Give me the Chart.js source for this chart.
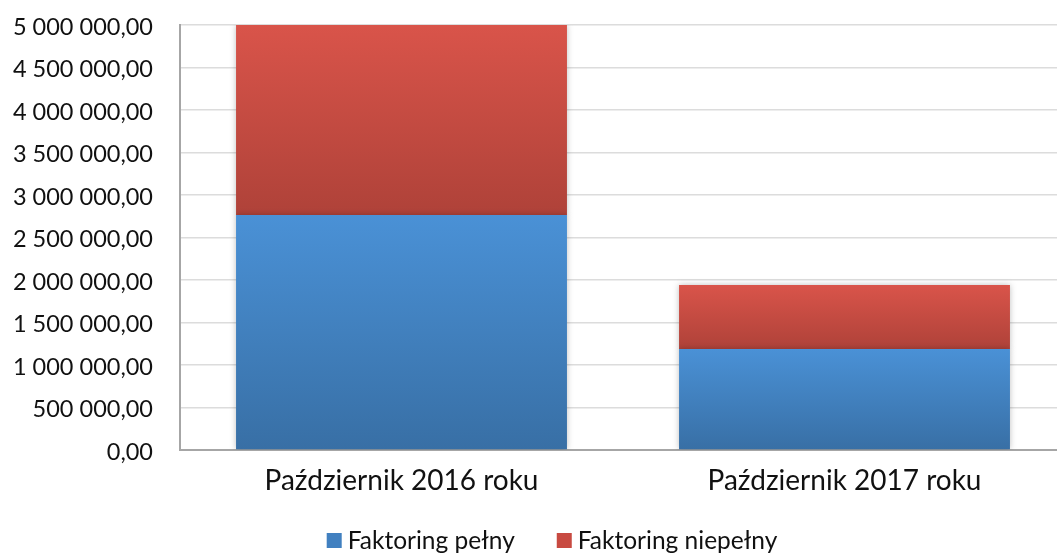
<!DOCTYPE html>
<html>
<head>
<meta charset="utf-8">
<script src="https://cdn.jsdelivr.net/npm/chart.js@4"></script>
<style>
  html, body { margin: 0; padding: 0; background: #fff; overflow: hidden; }
  #wrap { width: 1066px; height: 554px; position: relative; }
</style>
</head>
<body>
<div id="wrap"><canvas id="myChart"></canvas></div>
<script>
// categories and series
const categories = ['Październik 2016 roku', 'Październik 2017 roku'];
const fullFactoring = [2765000, 1188000];
const partialFactoring = [2235000, 753000];
const yTicks = [0, 500000, 1000000, 1500000, 2000000, 2500000, 3000000, 3500000, 4000000, 4500000, 5000000];
const legendFills = ['#4180c0', '#c84a41'];

// '5 000 000,00' style labels
function formatPl(v) {
  const parts = Math.round(v).toString().replace(/\B(?=(\d{3})+(?!\d))/g, ' ');
  return parts + ',00';
}

// vertical gradient for one stacked segment
function segmentGradient(ctx, lowValue, highValue, topColor, bottomColor) {
  const chart = ctx.chart;
  const yScale = chart.scales.y;
  if (!chart.chartArea || !yScale) return topColor;
  const top = yScale.getPixelForValue(highValue);
  const bottom = yScale.getPixelForValue(lowValue);
  const g = chart.ctx.createLinearGradient(0, top, 0, bottom);
  g.addColorStop(0, topColor);
  g.addColorStop(1, bottomColor);
  return g;
}

// soft shadow behind bars
const barShadow = {
  id: 'barShadow',
  beforeDatasetsDraw(chart) {
    const c = chart.ctx;
    c.save();
    c.shadowColor = 'rgba(0,0,0,0.25)';
    c.shadowBlur = 6;
    c.shadowOffsetX = 0;
    c.shadowOffsetY = 0;
  },
  afterDatasetsDraw(chart) {
    chart.ctx.restore();
  }
};

// legend drawn by hand so the spacing matches the original (wide gap between items)
const bottomLegend = {
  id: 'bottomLegend',
  afterDraw(chart) {
    const c = chart.ctx;
    const boxSize = 15, boxGap = 6, itemGap = 42, centerX = 552, baseline = 549;
    c.save();
    c.font = '24.5px Lato';
    c.textBaseline = 'alphabetic';
    const texts = chart.data.datasets.map(function(ds) { return ds.label; });
    let total = 0;
    texts.forEach(function(t, i) {
      total += boxSize + boxGap + c.measureText(t).width;
      if (i < texts.length - 1) total += itemGap;
    });
    let x = centerX - total / 2;
    texts.forEach(function(t, i) {
      c.fillStyle = legendFills[i];
      c.fillRect(x, baseline - 16, boxSize, boxSize);
      x += boxSize + boxGap;
      c.fillStyle = '#111';
      c.fillText(t, x, baseline);
      x += c.measureText(t).width + itemGap;
    });
    c.restore();
  }
};

function drawChart() {
  const ctx = document.getElementById('myChart').getContext('2d');
  new Chart(ctx, {
    type: 'bar',
    data: {
      labels: categories,
      datasets: [{
        label: 'Faktoring pełny',
        data: fullFactoring,
        backgroundColor: function(c) {
          return segmentGradient(c, 0, fullFactoring[c.dataIndex], '#4a91d6', '#386fa5');
        },
        borderWidth: 0,
        barPercentage: 0.747,
        categoryPercentage: 1.0
      }, {
        label: 'Faktoring niepełny',
        data: partialFactoring,
        backgroundColor: function(c) {
          const low = fullFactoring[c.dataIndex];
          return segmentGradient(c, low, low + partialFactoring[c.dataIndex], '#d9544a', '#af4239');
        },
        borderWidth: 0,
        barPercentage: 0.747,
        categoryPercentage: 1.0
      }]
    },
    options: {
      responsive: true,
      maintainAspectRatio: false,
      animation: false,
      layout: { padding: { top: 25, left: 0, right: 0, bottom: 37 } },
      plugins: {
        tooltip: { enabled: false },
        legend: { display: false }
      },
      scales: {
        x: {
          stacked: true,
          afterFit: function(axis) { axis.height = 67; },
          grid: { display: false, drawTicks: false },
          border: { color: '#a6a6a6', width: 2 },
          ticks: { font: { family: 'Lato', size: 28 }, color: '#111', padding: 14 }
        },
        y: {
          stacked: true,
          min: 0,
          max: 5000000,
          afterFit: function(axis) {
            axis.width = 180;
            axis.paddingTop = 0;
            axis.paddingBottom = 0;
          },
          afterBuildTicks: function(axis) {
            axis.ticks = yTicks.map(function(v) { return { value: v }; });
          },
          grid: { color: '#dcdcdc', lineWidth: 1.5, drawTicks: false },
          border: { color: '#a6a6a6', width: 2 },
          ticks: {
            font: { family: 'Lato', size: 23.5 },
            color: '#111',
            padding: 27,
            labelOffset: 2,
            callback: function(v) { return formatPl(v); }
          }
        }
      }
    },
    plugins: [barShadow, bottomLegend]
  });
}

window.onload = drawChart;
</script>
</body>
</html>
